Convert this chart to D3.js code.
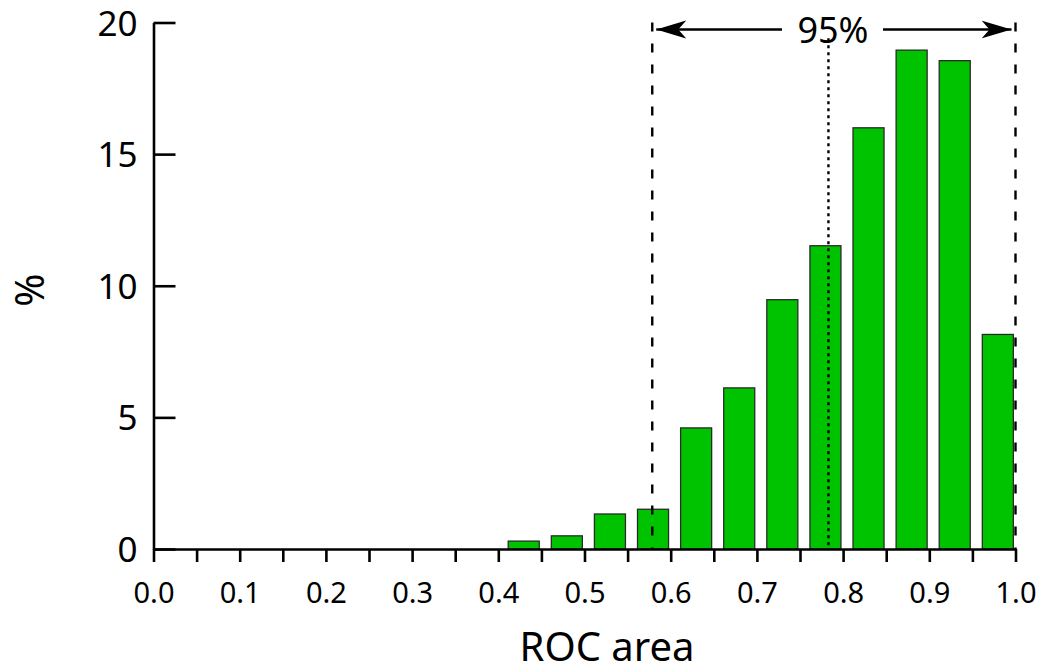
<!DOCTYPE html>
<html>
<head>
<meta charset="utf-8">
<script src="https://cdn.jsdelivr.net/npm/d3@7"></script>
<style>
  body { margin: 0; background: #fff; }
  svg { display: block; font-family: "Noto Sans", "Open Sans", sans-serif; }
</style>
</head>
<body>
<script>
// histogram of ROC area, bins of width 0.05
const binStarts = [0.40, 0.45, 0.50, 0.55, 0.60, 0.65, 0.70, 0.75, 0.80, 0.85, 0.90, 0.95];
const percents  = [0.30, 0.50, 1.33, 1.51, 4.60, 6.12, 9.47, 11.52, 16.0, 18.95, 18.55, 8.15];
const binWidth = 0.05;

const xTicks = [0, 0.05, 0.1, 0.15, 0.2, 0.25, 0.3, 0.35, 0.4, 0.45, 0.5, 0.55, 0.6, 0.65, 0.7, 0.75, 0.8, 0.85, 0.9, 0.95, 1.0];
const yTicks = [0, 5, 10, 15, 20];

// interval markers
const ciLow = 0.5786, ciHigh = 1.0, median = 0.783;
const ciLabel = "95%";

const width = 1039, height = 672;

const svg = d3.select("body").append("svg")
    .attr("width", width)
    .attr("height", height);

const x = d3.scaleLinear().domain([0, 1]).range([153.5, 1015.5]);
const y = d3.scaleLinear().domain([0, 20]).range([549, 22.5]);

// bars
svg.append("g")
  .selectAll("rect")
  .data(binStarts)
  .join("rect")
    .attr("x", (d) => x(d + binWidth * 0.23))
    .attr("width", x(binWidth * 0.72) - x(0))
    .attr("y", (d, i) => y(percents[i]))
    .attr("height", (d, i) => y(0) - y(percents[i]))
    .attr("fill", "#00c300")
    .attr("stroke", "#2a2a2a")
    .attr("stroke-width", 1.3);

// x axis
const xAxis = d3.axisBottom(x)
    .tickValues(xTicks)
    .tickSize(13)
    .tickSizeOuter(0)
    .tickPadding(20)
    .tickFormat((d) => Math.round(d * 100) % 10 === 0 ? d3.format(".1f")(d) : "");

const gx = svg.append("g")
    .attr("transform", `translate(0,${y(0)})`)
    .call(xAxis)
    .attr("font-family", null)
    .attr("font-size", 29);
gx.selectAll("path, line").attr("stroke", "#000").attr("stroke-width", 2.6);
gx.selectAll("text").attr("fill", "#000");

// y axis, ticks pointing inward
const yAxis = d3.axisLeft(y)
    .tickValues(yTicks)
    .tickSize(-22)
    .tickSizeOuter(0)
    .tickPadding(16);

const gy = svg.append("g")
    .attr("transform", `translate(${x(0)},0)`)
    .call(yAxis)
    .attr("font-family", null)
    .attr("font-size", 35);
gy.selectAll("path, line").attr("stroke", "#000").attr("stroke-width", 2.6);
gy.selectAll("text").attr("fill", "#000").attr("dy", "0.36em");
gy.selectAll(".tick text").attr("x", -16);

// axis titles
svg.append("text")
    .attr("x", 607)
    .attr("y", 661)
    .attr("text-anchor", "middle")
    .attr("font-size", 40)
    .text("ROC area");

svg.append("text")
    .attr("transform", "translate(44,290) rotate(-90)")
    .attr("text-anchor", "middle")
    .attr("font-size", 40)
    .text("%");

// interval lines
svg.append("line")
    .attr("x1", x(ciLow)).attr("x2", x(ciLow))
    .attr("y1", y(20)).attr("y2", y(0))
    .attr("stroke", "#000").attr("stroke-width", 2.4)
    .attr("stroke-dasharray", "9,12");

svg.append("line")
    .attr("x1", x(ciHigh)).attr("x2", x(ciHigh))
    .attr("y1", y(20)).attr("y2", y(0))
    .attr("stroke", "#000").attr("stroke-width", 2.4)
    .attr("stroke-dasharray", "9,12");

svg.append("line")
    .attr("x1", x(median)).attr("x2", x(median))
    .attr("y1", y(19.4)).attr("y2", y(0))
    .attr("stroke", "#000").attr("stroke-width", 2.4)
    .attr("stroke-dasharray", "3,4");

// arrows
const defs = svg.append("defs");
defs.append("marker")
    .attr("id", "head")
    .attr("viewBox", "0 0 30 20")
    .attr("refX", 30).attr("refY", 10)
    .attr("markerWidth", 30).attr("markerHeight", 20)
    .attr("markerUnits", "userSpaceOnUse")
    .attr("orient", "auto")
  .append("path")
    .attr("d", "M0,1 L30,10 L0,19 L8,10 Z")
    .attr("fill", "#000");

const arrowY = 29.5;
svg.append("line")
    .attr("x1", 782).attr("x2", x(ciLow) + 4)
    .attr("y1", arrowY).attr("y2", arrowY)
    .attr("stroke", "#000").attr("stroke-width", 2.4)
    .attr("marker-end", "url(#head)");

svg.append("line")
    .attr("x1", 883).attr("x2", x(ciHigh) - 4)
    .attr("y1", arrowY).attr("y2", arrowY)
    .attr("stroke", "#000").attr("stroke-width", 2.4)
    .attr("marker-end", "url(#head)");

svg.append("text")
    .attr("x", 833)
    .attr("y", 43)
    .attr("text-anchor", "middle")
    .attr("font-size", 36)
    .text(ciLabel);
</script>
</body>
</html>
